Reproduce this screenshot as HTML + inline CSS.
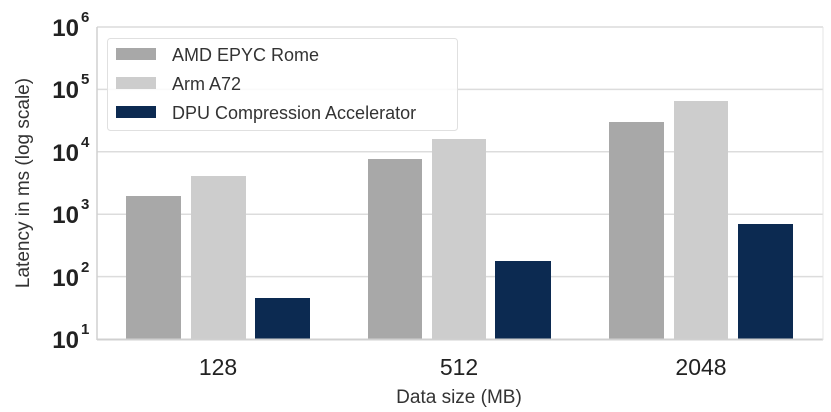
<!DOCTYPE html>
<html><head><style>body{margin:0;background:#fff}svg{display:block;font-family:"Liberation Sans",sans-serif}</style></head>
<body>
<svg width="831" height="412" xmlns="http://www.w3.org/2000/svg">
<rect x="0" y="0" width="831" height="412" fill="#fff"/>
<g stroke="#dcdcdc" stroke-width="1.5">
<line x1="97" y1="27" x2="823" y2="27"/>
<line x1="97" y1="89.4" x2="823" y2="89.4"/>
<line x1="97" y1="151.8" x2="823" y2="151.8"/>
<line x1="97" y1="214.2" x2="823" y2="214.2"/>
<line x1="97" y1="276.6" x2="823" y2="276.6"/>
</g>
<g>
<rect x="126" y="196" width="55" height="143" fill="#a8a8a8"/>
<rect x="191" y="176" width="55" height="163" fill="#cdcdcd"/>
<rect x="255" y="298" width="55" height="41" fill="#0c2a51"/>
<rect x="368" y="159" width="54" height="180" fill="#a8a8a8"/>
<rect x="432" y="139" width="54" height="200" fill="#cdcdcd"/>
<rect x="495" y="261" width="56" height="78" fill="#0c2a51"/>
<rect x="609" y="122" width="55" height="217" fill="#a8a8a8"/>
<rect x="674" y="101" width="54" height="238" fill="#cdcdcd"/>
<rect x="738" y="224" width="55" height="115" fill="#0c2a51"/>
</g>
<line x1="97" y1="27" x2="97" y2="340" stroke="#d0d0d0" stroke-width="1.5"/>
<line x1="97" y1="339.5" x2="823" y2="339.5" stroke="#d0d0d0" stroke-width="2"/>
<line x1="823" y1="27" x2="823" y2="340" stroke="#e4e4e4" stroke-width="1"/>
<rect x="107.5" y="38.5" width="350" height="92" rx="3" fill="#fff" fill-opacity="0.85" stroke="#e0e0e0"/>
<rect x="116" y="48" width="40" height="12" fill="#a8a8a8"/>
<rect x="116" y="77" width="40" height="12" fill="#cdcdcd"/>
<rect x="116" y="106" width="40" height="12" fill="#0c2a51"/>
<g font-size="18" fill="#333">
<text x="172" y="61">AMD EPYC Rome</text>
<text x="172" y="90">Arm A72</text>
<text x="172" y="119">DPU Compression Accelerator</text>
</g>
<g font-size="24" font-weight="bold" fill="#222" text-anchor="end">
<text x="79" y="36">10</text><text x="81" y="22" font-size="15" text-anchor="start">6</text>
<text x="79" y="98">10</text><text x="81" y="84" font-size="15" text-anchor="start">5</text>
<text x="79" y="161">10</text><text x="81" y="147" font-size="15" text-anchor="start">4</text>
<text x="79" y="223">10</text><text x="81" y="209" font-size="15" text-anchor="start">3</text>
<text x="79" y="286">10</text><text x="81" y="272" font-size="15" text-anchor="start">2</text>
<text x="79" y="348">10</text><text x="81" y="334" font-size="15" text-anchor="start">1</text>
</g>
<g font-size="23" fill="#222" text-anchor="middle">
<text x="218" y="375">128</text>
<text x="459" y="375">512</text>
<text x="701" y="375">2048</text>
</g>
<text x="459" y="403" font-size="19" fill="#333" text-anchor="middle">Data size (MB)</text>
<text transform="translate(29,183) rotate(-90)" font-size="19" fill="#333" text-anchor="middle">Latency in ms (log scale)</text>
</svg>
</body></html>
